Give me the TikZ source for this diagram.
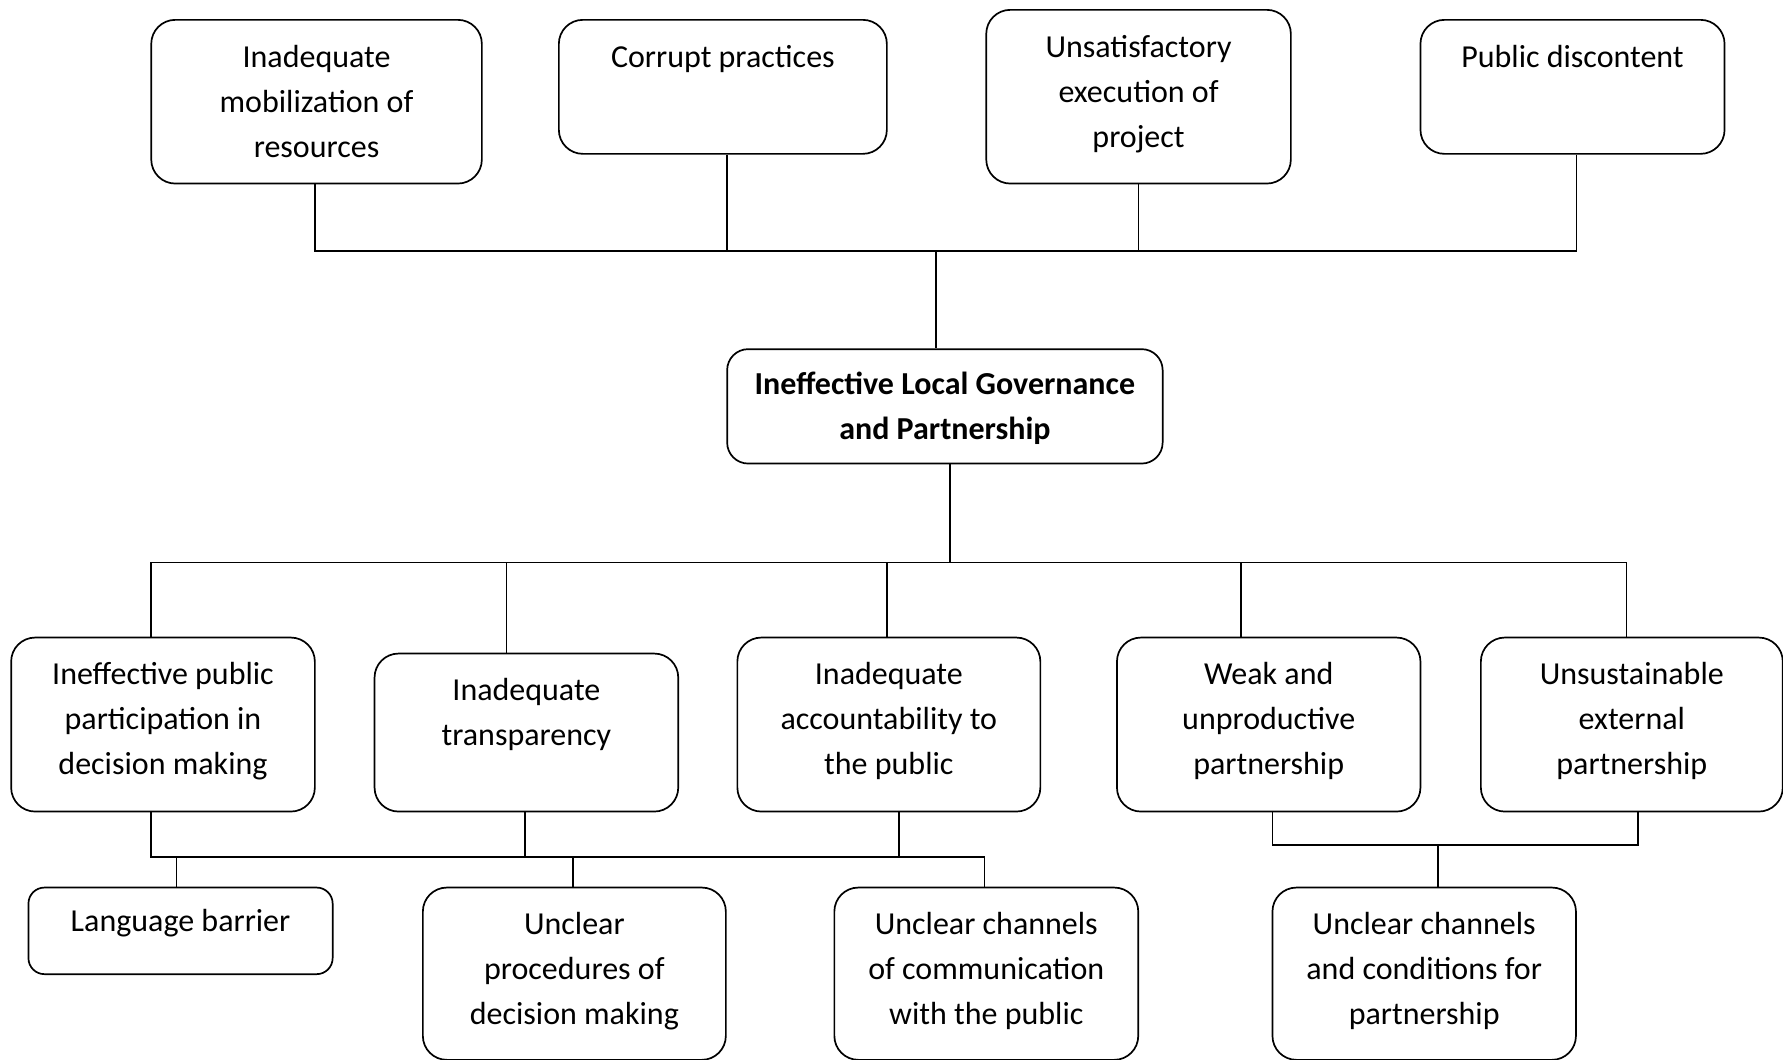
\documentclass[tikz,border=0pt]{standalone}
\usepackage{fontspec}
\setmainfont{Carlito}
\begin{document}
\begin{tikzpicture}[x=1pt,y=-1pt,
  box/.style={draw, rounded corners=24pt, line width=1.7pt, inner sep=0pt},
  lbl/.style={anchor=north, align=center, inner sep=0pt,
    font=\fontsize{32pt}{45pt}\selectfont},
  conn/.style={line width=1.7pt}]
\useasboundingbox (0,0) rectangle (1783,1060);

% boxes: (north west corner), width x height, label
\newcommand{\problembox}[6]{%
  \node[box, anchor=north west, minimum width=#4pt, minimum height=#5pt] (#1) at (#2,#3) {};
  \node[lbl] (#1t) at ([yshift=-22pt]#1.north) {\rule{0pt}{26pt}#6};}

% effects
\problembox{A}{150.4}{19}{330.6}{163.7}{Inadequate\\mobilization of\\resources}
\problembox{B}{558}{19}{328}{134}{Corrupt practices}
\problembox{C}{985.4}{9}{304.6}{173.7}{Unsatisfactory\\execution of\\project}
\problembox{D}{1419.6}{19}{304.1}{134}{Public discontent}

% core problem
\node[box, anchor=north west, minimum width=435.5pt, minimum height=114.4pt, rounded corners=21pt] (L) at (726.3,348.3) {};
\node[lbl, font=\fontsize{32pt}{44.5pt}\selectfont\bfseries] (Lt) at ([yshift=-20pt]L.north) {\rule{0pt}{26pt}Ineffective Local Governance\\and Partnership};

% causes
\problembox{E}{10.3}{636.7}{303.7}{174}{Ineffective public\\participation in\\decision making}
\problembox{F}{373.7}{652.7}{303.7}{158}{Inadequate\\transparency}
\problembox{G}{736.5}{636.7}{303}{174}{Inadequate\\accountability to\\the public}
\problembox{H}{1116.1}{636.7}{303.5}{174}{Weak and\\unproductive\\partnership}
\problembox{I}{1480}{636.7}{301.9}{174}{Unsustainable\\external\\partnership}

% root causes
\node[box, anchor=north west, minimum width=304.2pt, minimum height=86.6pt, rounded corners=16pt] (LB) at (27.6,886.7) {};
\node[lbl] (LBt) at ([yshift=-19pt]LB.north) {\rule{0pt}{26pt}Language barrier};
\problembox{UP}{422}{886.7}{303}{172.3}{Unclear\\procedures of\\decision making}
\problembox{K}{833.5}{886.7}{303.9}{172.3}{Unclear channels\\of communication\\with the public}
\problembox{J}{1271.6}{886.7}{303.5}{172.3}{Unclear channels\\and conditions for\\partnership}

% junctions
\coordinate (tb) at (936,250.7);
\coordinate (mb) at (949.8,562.5);
\coordinate (lb) at (524,856.7);
\coordinate (rb) at (1437.5,844.7);

% effects to core problem
\draw[conn] ([xshift=-1.7pt]A.south) |- (tb);
\draw[conn] ([xshift=4pt]B.south) |- (tb);
\draw[conn] (C.south) |- (tb);
\draw[conn] ([xshift=4pt]D.south) |- (tb);
\draw[conn] (tb) -- (tb |- L.north);

% core problem to causes
\draw[conn] (L.south -| mb) -- (mb);
\draw[conn] ([xshift=-11.8pt]E.north) |- (mb);
\draw[conn] ([xshift=-19.8pt]F.north) |- (mb);
\draw[conn] ([xshift=-2pt]G.north) |- (mb);
\draw[conn] ([xshift=-27.9pt]H.north) |- (mb);
\draw[conn] ([xshift=-5.2pt]I.north) |- (mb);

% causes to root causes
\draw[conn] ([xshift=-11.8pt]E.south) |- (lb);
\draw[conn] ([xshift=-1.5pt]F.south) |- (lb);
\draw[conn] ([xshift=9.9pt]G.south) |- (lb);
\draw[conn] ([xshift=-4pt]LB.north) |- (lb);
\draw[conn] ([xshift=-1.7pt]UP.north) |- (lb);
\draw[conn] ([xshift=-1.8pt]K.north) |- (lb);

\draw[conn] ([xshift=3.7pt]H.south) |- (rb);
\draw[conn] ([xshift=6.3pt]I.south) |- (rb);
\draw[conn] ([xshift=14.1pt]J.north) |- (rb);
\end{tikzpicture}
\end{document}
